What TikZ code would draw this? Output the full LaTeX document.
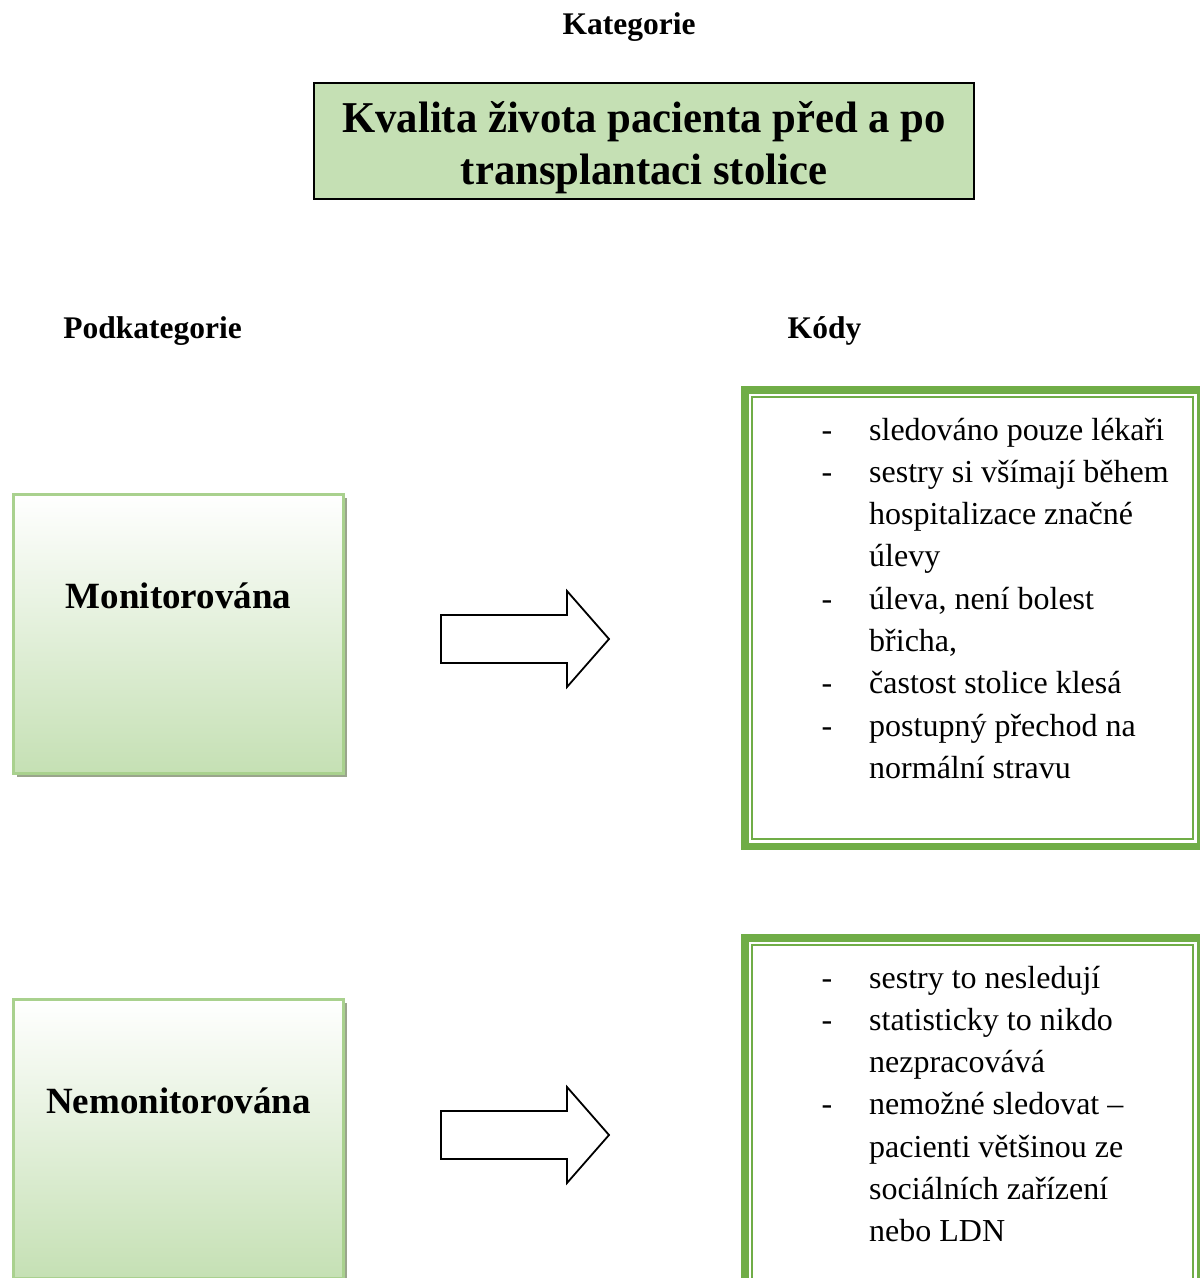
\documentclass[tikz,border=0pt]{standalone}
\usepackage{fontspec}
\setmainfont{Liberation Serif}
\usetikzlibrary{calc,shadows}
\definecolor{titlegreen}{HTML}{C5E0B4}
\definecolor{edgegreen}{HTML}{A9D18E}
\definecolor{bandgreen}{HTML}{70AD47}
\definecolor{shadowgray}{HTML}{9AA58C}

\begin{document}
\begin{tikzpicture}[x=1pt,y=-1pt,
  heading/.style={font=\fontsize{31.5}{38}\selectfont\bfseries, inner sep=0, anchor=base},
  titlebox/.style={draw=black, line width=1.4pt, fill=titlegreen, outer sep=0,
    minimum width=660, minimum height=116},
  titletext/.style={align=center, inner sep=0,
    font=\fontsize{44}{52}\selectfont\bfseries},
  subbox/.style={draw=edgegreen, line width=2.5pt, outer sep=0,
    top color=white, bottom color=titlegreen,
    minimum width=330, minimum height=279,
    general shadow={fill=shadowgray, shadow xshift=3pt, shadow yshift=-3pt}},
  sublabel/.style={font=\fontsize{37}{44}\selectfont\bfseries, inner sep=0, anchor=base},
  codebox/.style={draw=bandgreen, line width=7.5pt, outer sep=0, inner sep=0, minimum width=455.5},
  codeinner/.style={draw=bandgreen, line width=2pt},
  codetext/.style={font=\fontsize{32}{42.3}\selectfont, inner sep=0, anchor=base west},
  blockarrow/.style={draw=black, line width=1.8pt, fill=white, line join=miter}
]
\useasboundingbox (0,0) rectangle (1200,1278);

% headings
\node[heading] (hcat) at (629,34) {Kategorie};
\node[heading] (hsub) at (152.5,338) {Podkategorie};
\node[heading] (hcode) at (824.5,338) {Kódy};

% category
\node[titlebox] (cat) at (644,141) {};
\node[titletext, yshift=-7pt, xscale=0.97] (cattext) at (cat.center)
  {Kvalita života pacienta před a po\\transplantaci stolice};

% subcategory boxes
\node[subbox] (mon) at (178.5,634) {};
\node[sublabel] (monlab) at (178.5,608) {Monitorována};
\node[subbox] (nemon) at (178.5,1139) {};
\node[sublabel] (nemonlab) at (178.5,1113) {Nemonitorována};

% block arrows
\coordinate (a1) at (441,639);
\draw[blockarrow] (a1) ++(0,-24) -- ++(126,0) -- ++(0,-24) -- ++(42,48)
  -- ++(-42,48) -- ++(0,-24) -- ++(-126,0) -- cycle;
\coordinate (a2) at (441,1135);
\draw[blockarrow] (a2) ++(0,-24) -- ++(126,0) -- ++(0,-24) -- ++(42,48)
  -- ++(-42,48) -- ++(0,-24) -- ++(-126,0) -- cycle;

% code boxes with double green frame
\node[codebox, minimum height=456.5] (k1) at (972.5,618) {};
\draw[codeinner] ($(k1.north west)+(7.25,7.25)$) rectangle ($(k1.south east)+(-7.25,-7.25)$);
\node[codebox, minimum height=362] (k2) at (972.5,1118.75) {};
\draw[codeinner] ($(k2.north west)+(7.25,7.25)$) rectangle ($(k2.south east)+(-7.25,-7.25)$);

% code lists
\node[codetext] (k1text) at (821.5,440) {\renewcommand\arraystretch{1}%
  \begin{tabular}[t]{@{}p{47.5pt}@{}l@{}}
  - & sledováno pouze lékaři\\
  - & sestry si všímají během\\
    & hospitalizace značné\\
    & úlevy\\
  - & úleva, není bolest\\
    & břicha,\\
  - & častost stolice klesá\\
  - & postupný přechod na\\
    & normální stravu
  \end{tabular}};
\node[codetext] (k2text) at (821.5,988) {\renewcommand\arraystretch{1}%
  \begin{tabular}[t]{@{}p{47.5pt}@{}l@{}}
  - & sestry to nesledují\\
  - & statisticky to nikdo\\
    & nezpracovává\\
  - & nemožné sledovat --\\
    & pacienti většinou ze\\
    & sociálních zařízení\\
    & nebo LDN
  \end{tabular}};
\end{tikzpicture}
\end{document}
